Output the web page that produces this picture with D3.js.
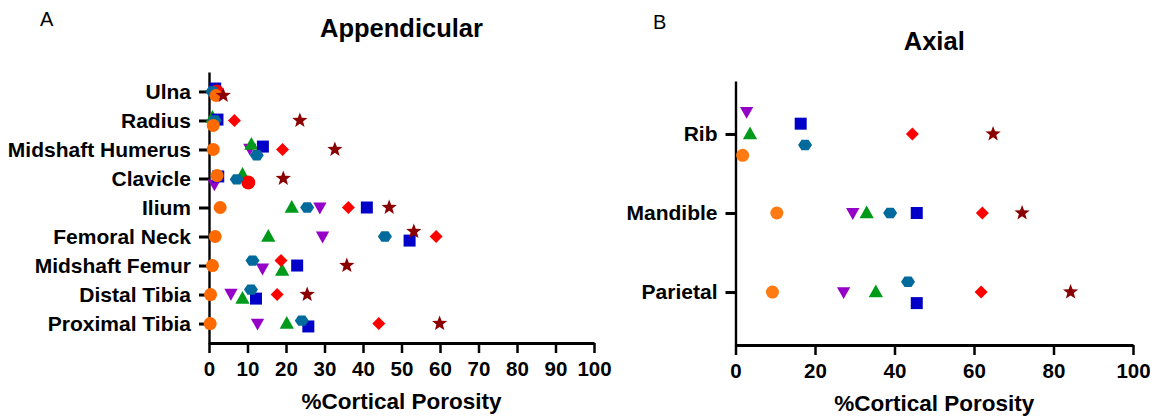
<!DOCTYPE html>
<html>
<head>
<meta charset="utf-8">
<script src="https://cdn.jsdelivr.net/npm/d3@7"></script>
<style>
  body { margin: 0; background: #fff; }
  svg { font-family: "Liberation Sans", Arial, sans-serif; }
</style>
</head>
<body>
<svg width="1151" height="420"></svg>
<script>
// ---- data ----
var bonesA = ["Ulna", "Radius", "Midshaft Humerus", "Clavicle", "Ilium",
              "Femoral Neck", "Midshaft Femur", "Distal Tibia", "Proximal Tibia"]
var bonesB = ["Rib", "Mandible", "Parietal"]
var xTicksA = [0, 10, 20, 30, 40, 50, 60, 70, 80, 90, 100]
var xTicksB = [0, 20, 40, 60, 80, 100]

// % cortical porosity per series (order of bonesA)
var purpleA   = [1.5, 1.8, 10.6, 1.4, 28.8, 29.5, 13.9, 5.7, 12.6]
var greenA    = [2.7, 0.9, 11.0, 8.7, 21.5, 15.4, 19.0, 8.7, 20.2]
var blueA     = [1.6, 2.2, 14.0, 2.4, 41.0, 52.1, 22.9, 12.2, 25.8]
var redDotA   = [2.0, null, null, 10.2, null, null, null, null, null]
var tealA     = [0.9, 1.5, 12.4, 7.2, 25.5, 45.7, 11.3, 10.9, 24.1]
var orangeA   = [1.8, 1.1, 1.1, 2.1, 2.9, 1.6, 0.9, 0.4, 0.3]
var redA      = [null, 6.6, 19.1, null, 36.2, 59.0, 18.7, 17.7, 44.1]
var starA     = [3.7, 23.6, 32.7, 19.3, 46.8, 53.2, 35.8, 25.5, 59.9]

// vertical scatter inside a row, in row units (as seen in the figure)
var purpleOffA = [0, 0.07, -0.03, 0.2, 0, 0, 0.1, -0.03, 0]
var greenOffA  = [0.07, -0.1, -0.17, -0.14, 0, 0, 0.17, 0.14, 0]
var blueOffA   = [-0.1, -0.03, -0.1, -0.07, 0, 0.14, 0, 0.14, 0.1]
var redDotOffA = [0, 0, 0, 0.14, 0, 0, 0, 0, 0]
var tealOffA   = [0, 0, 0.2, 0.03, 0, 0, -0.17, -0.17, -0.1]
var orangeOffA = [0.14, 0.17, 0, -0.1, 0, 0, 0, 0, 0]
var redOffA    = [0, 0, 0, 0, 0, 0, -0.17, 0, 0]
var starOffA   = [0.14, 0, 0, 0, 0, -0.17, 0, 0, 0]

var purpleB = [2.8, 29.5, 27.2]
var greenB  = [3.65, 33.0, 35.3]
var tealB   = [17.5, 38.9, 43.4]
var blueB   = [16.4, 45.6, 45.6]
var orangeB = [1.8, 10.4, 9.3]
var redB    = [44.5, 62.1, 61.8]
var starB   = [64.8, 72.1, 84.3]

var purpleOffB = [-0.28, 0, 0]
var greenOffB  = [0, 0, 0]
var tealOffB   = [0.14, 0, -0.13]
var blueOffB   = [-0.13, 0, 0.14]
var orangeOffB = [0.27, 0, 0]
var redOffB    = [0, 0, 0]
var starOffB   = [0, 0, 0]

// ---- marker shapes ----
function poly(pts) { return "M" + pts.map(function(p){ return p[0].toFixed(2) + "," + p[1].toFixed(2) }).join("L") + "Z" }
var shapes = {
  circle: function(r) { return "M" + (-r) + ",0A" + r + "," + r + " 0 1,0 " + r + ",0A" + r + "," + r + " 0 1,0 " + (-r) + ",0Z" },
  square: function(s) { return poly([[-s,-s],[s,-s],[s,s],[-s,s]]) },
  diamond: function(s) { return poly([[0,-s],[s,0],[0,s],[-s,0]]) },
  triUp: function(s) { return poly([[0,-s],[s*0.95,s*0.7],[-s*0.95,s*0.7]]) },
  triDown: function(s) { return poly([[0,s],[s*0.95,-s*0.7],[-s*0.95,-s*0.7]]) },
  hex: function(s) { var p = []; for (var i = 0; i < 6; i++) { var a = i * Math.PI / 3; p.push([s*Math.cos(a), s*0.85*Math.sin(a)]) } return poly(p) },
  star: function(s) { var p = []; for (var i = 0; i < 10; i++) { var a = -Math.PI/2 + i*Math.PI/5; var r = i % 2 ? s*0.42 : s; p.push([r*Math.cos(a), r*Math.sin(a)]) } return poly(p) }
}

var seriesA = [
  { v: purpleA, off: purpleOffA, shape: "triDown", size: 7,   color: "#9400c8" },
  { v: greenA,  off: greenOffA,  shape: "triUp",   size: 7.5, color: "#009a1a" },
  { v: blueA,   off: blueOffA,   shape: "square",  size: 6,   color: "#0000c8" },
  { v: redDotA, off: redDotOffA, shape: "circle",  size: 7,   color: "#f80000" },
  { v: tealA,   off: tealOffA,   shape: "hex",     size: 7,   color: "#006a9c" },
  { v: orangeA, off: orangeOffA, shape: "circle",  size: 6.5, color: "#ff6a00" },
  { v: redA,    off: redOffA,    shape: "diamond", size: 6.5, color: "#ff0000" },
  { v: starA,   off: starOffA,   shape: "star",    size: 8,   color: "#8b0000" }
]
var seriesB = [
  { v: purpleB, off: purpleOffB, shape: "triDown", size: 7,   color: "#9400c8" },
  { v: greenB,  off: greenOffB,  shape: "triUp",   size: 7.5, color: "#009a1a" },
  { v: blueB,   off: blueOffB,   shape: "square",  size: 6,   color: "#0000c8" },
  { v: tealB,   off: tealOffB,   shape: "hex",     size: 7,   color: "#006a9c" },
  { v: orangeB, off: orangeOffB, shape: "circle",  size: 6.5, color: "#ff7a10" },
  { v: redB,    off: redOffB,    shape: "diamond", size: 6.5, color: "#ff0000" },
  { v: starB,   off: starOffB,   shape: "star",    size: 8,   color: "#8b0000" }
]

var svg = d3.select("svg")

function panel(cfg) {
  var x = d3.scaleLinear().domain([0, 100]).range(cfg.xRange)
  var y = d3.scalePoint().domain(cfg.cats).range(cfg.yRange).padding(0.67)
  var step = y.step()
  var g = svg.append("g")

  // x axis
  var xa = g.append("g")
      .attr("transform", "translate(0," + cfg.yRange[1] + ")")
      .call(d3.axisBottom(x).tickValues(cfg.xTicks).tickSize(10).tickSizeOuter(0).tickPadding(8))
  xa.select(".domain").attr("stroke", "#000").attr("stroke-width", 2.8)
  xa.selectAll(".tick line").attr("stroke", "#000").attr("stroke-width", 2.5)
  xa.selectAll("text").attr("fill", "#000").style("font-size", "20.5px").style("font-weight", "bold")

  // y axis
  var ya = g.append("g")
      .attr("transform", "translate(" + cfg.xRange[0] + ",0)")
      .call(d3.axisLeft(y).tickSize(10).tickSizeOuter(0).tickPadding(8))
  ya.select(".domain").attr("stroke", "#000").attr("stroke-width", 2.4)
  ya.selectAll(".tick line").attr("stroke", "#000").attr("stroke-width", 3)
  ya.selectAll("text").attr("fill", "#000").style("font-size", "21px").style("font-weight", "bold")

  // points
  cfg.series.forEach(function(s) {
    var pts = cfg.cats.map(function(c, i) { return { c: c, v: s.v[i], o: s.off[i] } })
        .filter(function(d) { return d.v != null })
    g.append("g").selectAll("path")
      .data(pts)
      .enter().append("path")
      .attr("transform", function(d) { return "translate(" + x(d.v) + "," + (y(d.c) + d.o * step) + ")" })
      .attr("d", shapes[s.shape](s.size))
      .attr("fill", s.color)
  })

  // titles
  var cx = (cfg.xRange[0] + cfg.xRange[1]) / 2
  g.append("text").attr("x", cx).attr("y", cfg.titleY).attr("text-anchor", "middle")
      .style("font-size", "25.5px").style("font-weight", "bold").attr("fill", "#000").text(cfg.title)
  g.append("text").attr("x", cx).attr("y", cfg.yRange[1] + 66).attr("text-anchor", "middle")
      .style("font-size", "22.5px").style("font-weight", "bold").attr("fill", "#000").text("%Cortical Porosity")
  g.append("text").attr("x", cfg.letterX).attr("y", cfg.letterY)
      .style("font-size", "20px").attr("fill", "#000").text(cfg.letter)
}

panel({ cats: bonesA, series: seriesA, xTicks: xTicksA, xRange: [209, 594], yRange: [72, 343],
        title: "Appendicular", titleY: 37, letter: "A", letterX: 40, letterY: 26 })
panel({ cats: bonesB, series: seriesB, xTicks: xTicksB, xRange: [735.5, 1133], yRange: [81, 345],
        title: "Axial", titleY: 50, letter: "B", letterX: 653, letterY: 29 })
</script>
</body>
</html>
